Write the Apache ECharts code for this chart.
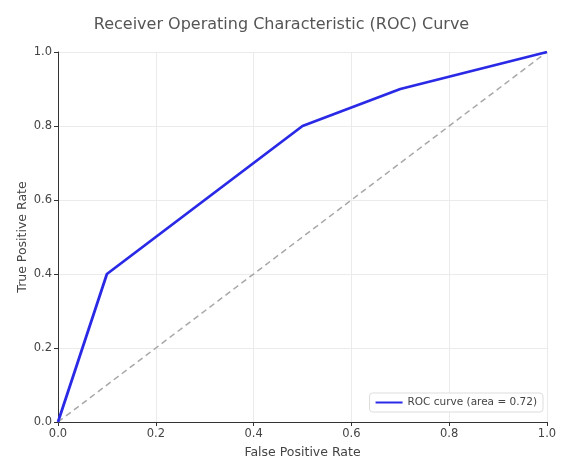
<!DOCTYPE html>
<html><head><meta charset="utf-8">
<script src="https://cdn.jsdelivr.net/npm/echarts@6/dist/echarts.min.js"></script>
<style>html,body{margin:0;padding:0;background:#fff}#c{width:563px;height:458px}</style>
</head><body><div id="c"></div>
<script>
const fpr = [0.0, 0.1, 0.5, 0.7, 1.0];
const tpr = [0.0, 0.4, 0.8, 0.9, 1.0];
const diagX = [0, 1];
const diagY = [0, 1];
const rocLabel = 'ROC curve (area = 0.72)';
const titleText = 'Receiver Operating Characteristic (ROC) Curve';

const chart = echarts.init(document.getElementById('c'));
const fmt = v => v.toFixed(1);
const axisCommon = {
  type: 'value', min: 0, max: 1, interval: 0.2,
  axisLine: {show: true, onZero: false, lineStyle: {color: '#333', width: 1}},
  axisTick: {show: true, inside: false, length: 4, lineStyle: {color: '#333'}},
  splitLine: {show: true, lineStyle: {color: '#ebebeb', width: 1}},
  axisLabel: {color: '#444', fontSize: 11.5, fontFamily: 'DejaVu Sans', formatter: fmt, margin: 6},
  nameTextStyle: {color: '#444', fontSize: 12.5, fontFamily: 'DejaVu Sans'},
  nameLocation: 'middle',
  nameMoveOverlap: false
};
chart.setOption({
  animation: false,
  title: {text: titleText, left: 'center', top: 12,
    textStyle: {color: '#555', fontSize: 16, fontWeight: 'normal', fontFamily: 'DejaVu Sans'}},
  grid: {left: 58, right: 16, top: 52, bottom: 36, containLabel: false, outerBoundsMode: 'none'},
  xAxis: Object.assign({}, axisCommon, {name: 'False Positive Rate', nameGap: 24}),
  yAxis: Object.assign({}, axisCommon, {name: 'True Positive Rate', nameGap: 29}),
  legend: {
    data: [rocLabel], right: 20, bottom: 46, orient: 'vertical',
    itemWidth: 27, itemHeight: 2,
    backgroundColor: '#fff', borderColor: '#ddd', borderWidth: 1, borderRadius: 3,
    padding: [4, 6],
    textStyle: {color: '#444', fontSize: 10.5, fontFamily: 'DejaVu Sans'},
    icon: 'rect'
  },
  series: [
    {name: 'diag', type: 'line', data: diagX.map((x, i) => [x, diagY[i]]),
     symbol: 'none', lineStyle: {color: '#a8a8a8', width: 1.5, type: [6, 4]}, z: 2},
    {name: rocLabel, type: 'line', data: fpr.map((x, i) => [x, tpr[i]]),
     symbol: 'none', lineStyle: {color: '#2a2ae6', width: 2.8}, itemStyle: {color: '#2a2ae6'}, z: 3}
  ]
});
</script></body></html>
